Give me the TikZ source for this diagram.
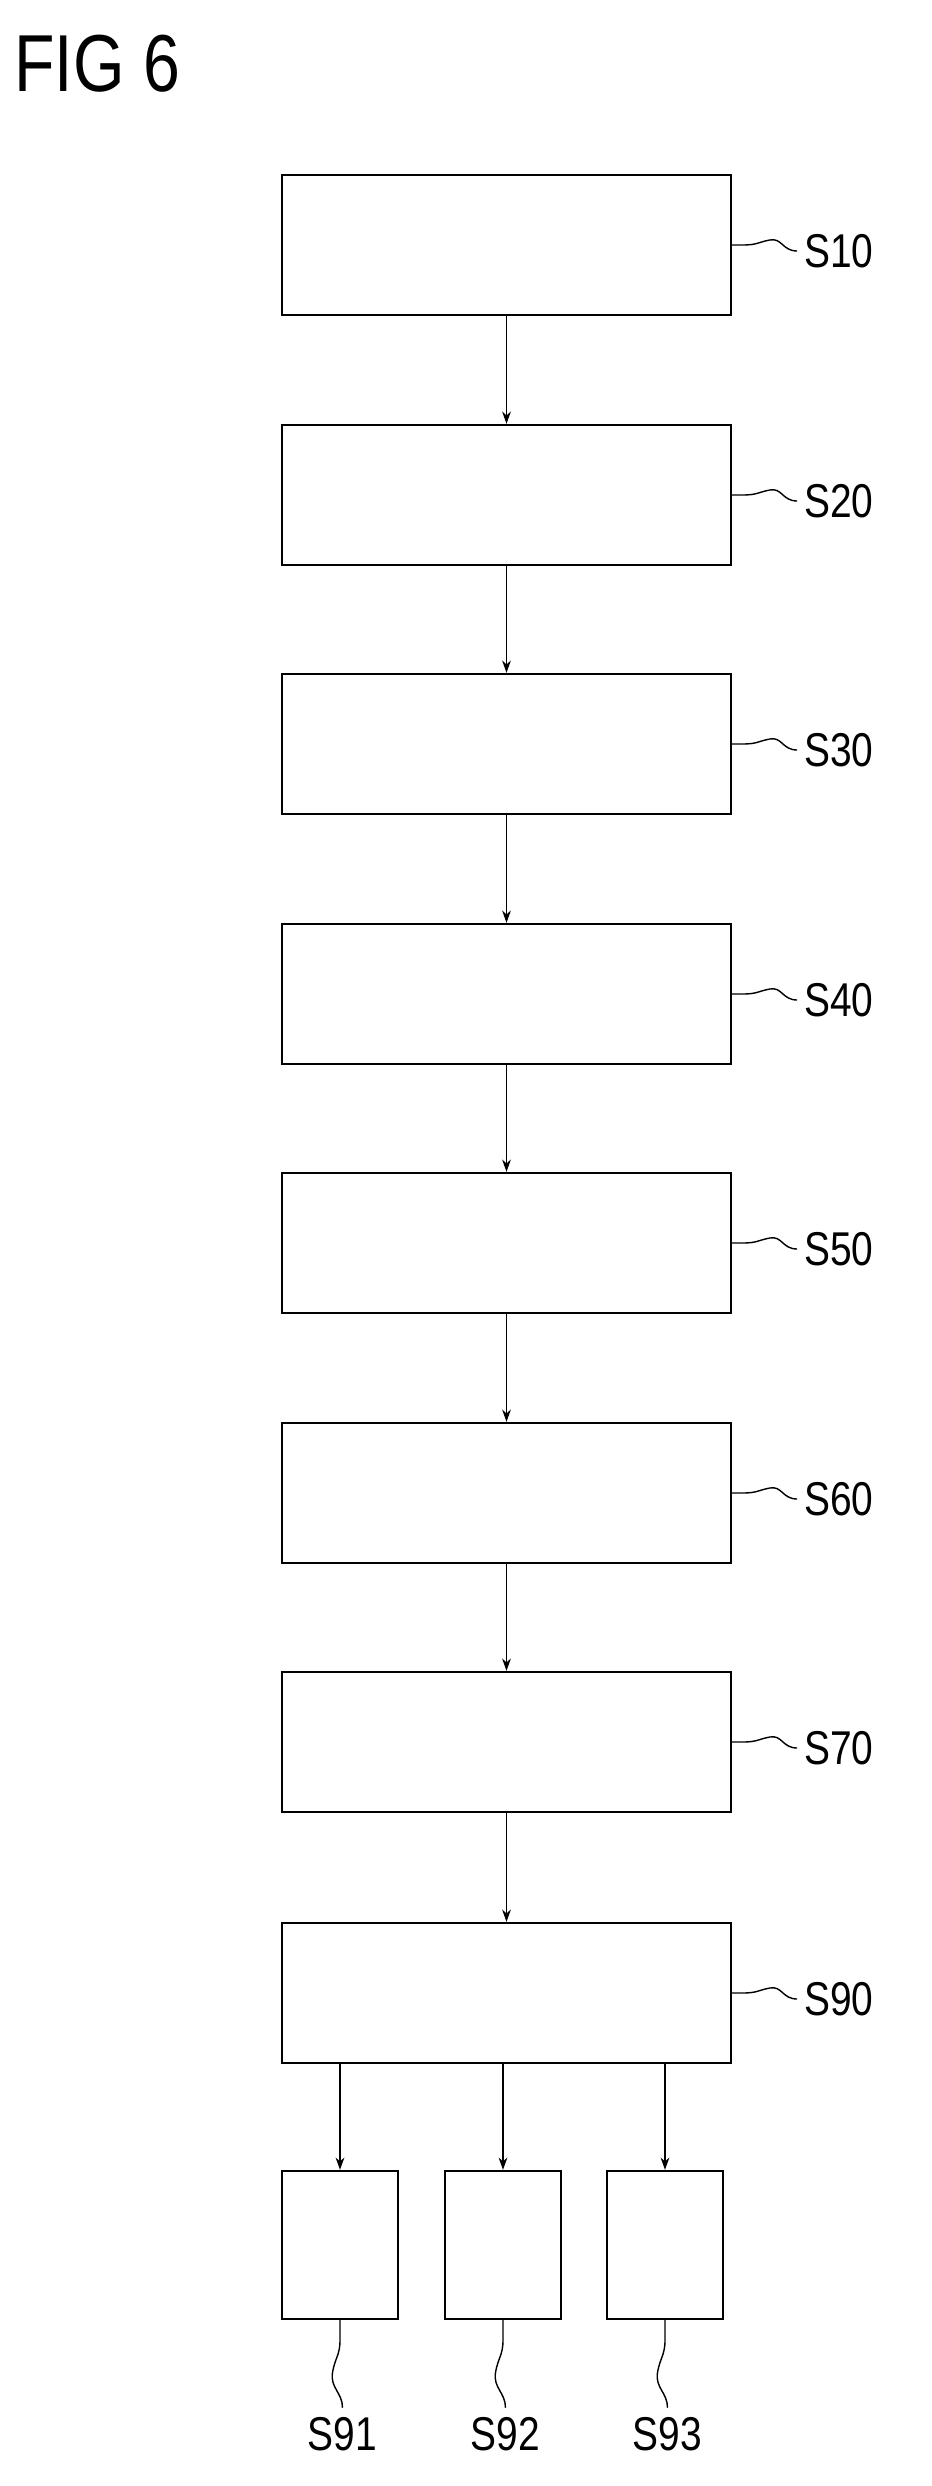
\documentclass[tikz,border=0pt]{standalone}
\usepackage{fontspec}
\setmainfont[FakeStretch=0.82]{Liberation Sans}
\usetikzlibrary{arrows.meta,calc}
\tikzset{
  stepbox/.style={draw,line width=1.4pt,minimum width=8.98cm,minimum height=2.8cm},
  subbox/.style={draw,line width=1.4pt,minimum width=2.32cm,minimum height=2.96cm},
  flow/.style={-{Stealth[length=7pt,width=5pt]},line width=0.8pt},
  lbl/.style={font=\fontsize{27}{30}\selectfont},
}
\begin{document}
\begin{tikzpicture}[x=0.02cm,y=-0.02cm]
\useasboundingbox (0,0) rectangle (932,2486);
\node[anchor=west,font=\fontsize{46}{50}\selectfont] (fig) at (8,64) {FIG 6};

\foreach \name/\y in {s10/245,s20/495,s30/744,s40/994,s50/1243,s60/1493,s70/1742,s90/1993}{
  \node[stepbox] (\name) at (506.5,\y) {};
  \coordinate (\name t) at ($(\name.east)+(1.3cm,-0.12cm)$);
}

% labels to the right
\foreach \name/\txt in {s10/S10,s20/S20,s30/S30,s40/S40,s50/S50,s60/S60,s70/S70,s90/S90}{
  \draw[line width=0.8pt] (\name.east) -- ++(0.2cm,0) .. controls +(0.3cm,0) and +(-0.25cm,-0.05cm) .. ++(0.55cm,0.1cm)
    .. controls +(0.25cm,0.05cm) and +(-0.3cm,0) .. (\name t);
  \node[lbl,anchor=west,inner sep=1pt] at ($(\name t)+(0.1cm,0)$) {\txt};
}

\draw[flow] (s10) -- (s20);
\draw[flow] (s20) -- (s30);
\draw[flow] (s30) -- (s40);
\draw[flow] (s40) -- (s50);
\draw[flow] (s50) -- (s60);
\draw[flow] (s60) -- (s70);
\draw[flow] (s70) -- (s90);

\foreach \name/\x/\txt in {s91/340/S91,s92/503/S92,s93/665/S93}{
  \node[subbox] (\name) at (\x,2245) {};
  \draw[flow] (s90.south -| \name.north) -- (\name.north);
  \coordinate (\name b) at ($(\name.south)+(0.05cm,-1.75cm)$);
  \draw[line width=0.8pt] (\name.south) -- ++(0,-0.4cm) .. controls +(0,-0.3cm) and +(0.05cm,0.3cm) .. ++(-0.15cm,-0.65cm)
    .. controls +(-0.05cm,-0.3cm) and +(0,0.3cm) .. (\name b);
  \node[lbl,anchor=north,inner sep=1pt] at ($(\name b)+(0,-0.15cm)$) {\txt};
}
\end{tikzpicture}
\end{document}
